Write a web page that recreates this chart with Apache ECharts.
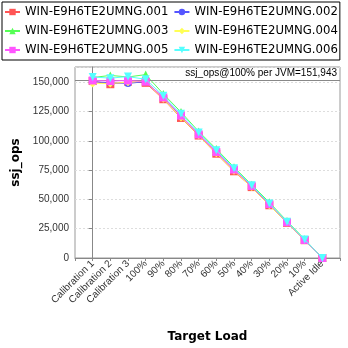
<!DOCTYPE html>
<html><head><meta charset="utf-8">
<script src="https://cdn.jsdelivr.net/npm/echarts@6/dist/echarts.min.js"></script>
<style>html,body{margin:0;padding:0;background:#fff}#c{width:348px;height:348px}</style>
</head><body><div id="c"></div>
<script>
const categories = ['Calibration 1','Calibration 2','Calibration 3','100%','90%','80%','70%','60%','50%','40%','30%','20%','10%','Active Idle'];
const seriesNames = ['WIN-E9H6TE2UMNG.001','WIN-E9H6TE2UMNG.002','WIN-E9H6TE2UMNG.003','WIN-E9H6TE2UMNG.004','WIN-E9H6TE2UMNG.005','WIN-E9H6TE2UMNG.006'];
const s001 = [151000,148300,150500,149500,135500,119500,104500,89000,74000,60500,45000,30000,15200,0];
const s002 = [150500,149500,149000,150500,137000,121000,105500,90500,75500,61000,45500,30500,15300,0];
const s003 = [154000,155800,154500,156500,140000,124500,108000,93000,77500,62500,47500,31500,16000,0];
const s004 = [149000,149000,150000,151000,136000,120000,104800,89500,74500,60500,45000,30200,15200,0];
const s005 = [151500,151000,151500,150500,137000,121500,105500,90500,75500,61500,46000,30500,15400,0];
const s006 = [154500,153500,154800,152500,138500,123000,107000,92000,76500,62000,46500,31000,15700,0];
const perJvm = 151943;
const yTicks = [0,25000,50000,75000,100000,125000,150000];

const colors = ['#ff5555','#5555ff','#55ff55','#ffff55','#ff55ff','#55ffff'];
const symbols = ['rect','circle','triangle','diamond','rect','triangle'];
const rotates = [0,0,0,0,0,180];
const allData = [s001,s002,s003,s004,s005,s006];

const series = allData.map((vals, k) => ({
  name: seriesNames[k],
  type: 'line',
  data: vals.map((v, i) => [i, v]),
  symbol: symbols[k],
  symbolSize: k === 1 ? 7 : 8,
  symbolRotate: rotates[k],
  itemStyle: { color: colors[k] },
  lineStyle: { color: colors[k], width: 1 },
  z: 2 + k
}));
series[0].markLine = {
  silent: true,
  symbol: 'none',
  animation: false,
  lineStyle: { color: '#888', width: 1, type: 'solid' },
  label: {
    position: 'insideEndTop',
    distance: [3, 2],
    formatter: 'ssj_ops@100% per JVM=' + perJvm.toLocaleString('en-US'),
    fontFamily: 'Liberation Sans',
    fontSize: 10,
    color: '#000'
  },
  data: [{ yAxis: perJvm }]
};

const chart = echarts.init(document.getElementById('c'), null, { renderer: 'canvas' });
chart.setOption({
  animation: false,
  backgroundColor: '#fff',
  legend: {
    left: 2, top: 2, width: 338,
    padding: [3, 2, 3, 2],
    itemGap: 5, itemWidth: 15, itemHeight: 8,
    borderColor: '#000', borderWidth: 1,
    textStyle: { fontFamily: 'DejaVu Sans', fontSize: 11.7, color: '#000', lineHeight: 14 },
    data: seriesNames
  },
  grid: { left: 75, right: 8, top: 67, bottom: 85, show: true, borderColor: '#999', borderWidth: 1, backgroundColor: '#fff' },
  xAxis: {
    type: 'value', min: -1, max: 14, interval: 1,
    name: 'Target Load', nameLocation: 'middle', nameGap: 73,
    nameTextStyle: { fontFamily: 'DejaVu Sans', fontWeight: 'bold', fontSize: 12, color: '#000' },
    axisLine: { lineStyle: { color: '#888' } },
    axisTick: { length: 3, lineStyle: { color: '#888' } },
    splitLine: { show: false },
    axisLabel: {
      rotate: 45, margin: 4,
      fontFamily: 'Liberation Sans', fontSize: 10, color: '#333',
      formatter: v => (v >= 0 && v < categories.length && Number.isInteger(v)) ? categories[v] : '',
      showMinLabel: true, showMaxLabel: true
    }
  },
  yAxis: {
    type: 'value', min: 0, max: 163000, interval: 25000,
    name: 'ssj_ops', nameLocation: 'middle', nameGap: 51,
    nameTextStyle: { fontFamily: 'DejaVu Sans', fontWeight: 'bold', fontSize: 12, color: '#000' },
    axisLine: { show: true, lineStyle: { color: '#888' } },
    axisTick: { show: true, length: 4, lineStyle: { color: '#888' } },
    splitLine: { show: true, lineStyle: { color: '#ddd', type: [2, 2] } },
    axisLabel: {
      margin: 6, fontFamily: 'Liberation Sans', fontSize: 10, color: '#333',
      showMaxLabel: false,
      formatter: v => yTicks.includes(v) ? v.toLocaleString('en-US') : ''
    }
  },
  series: series
});
</script></body></html>
